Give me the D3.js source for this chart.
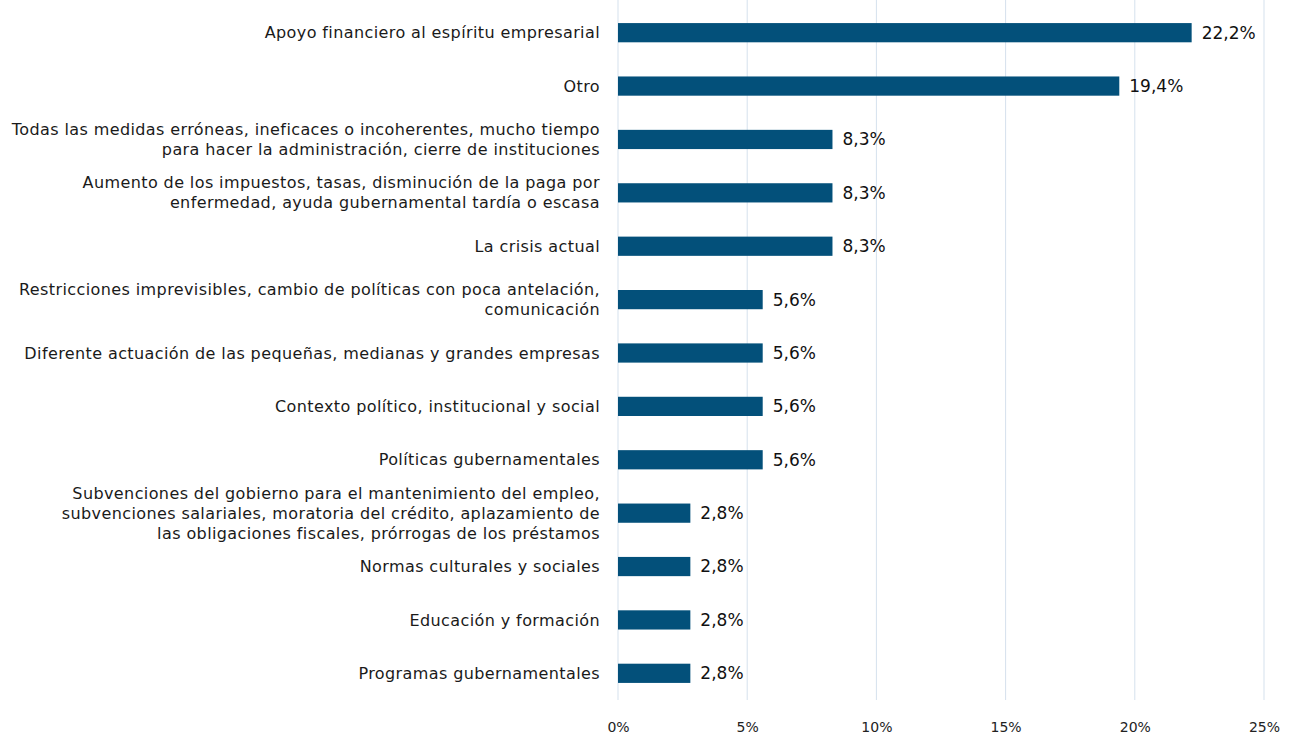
<!DOCTYPE html>
<html>
<head>
<meta charset="utf-8">
<script src="https://d3js.org/d3.v7.min.js"></script>
<style>
  body { margin: 0; background: #fff; }
  svg { font-family: "DejaVu Sans", sans-serif; }
</style>
</head>
<body>
<svg id="chart" width="1291" height="735"></svg>
<script>
// categories, top to bottom (line breaks as in the original)
var categories = [
  "Apoyo financiero al espíritu empresarial",
  "Otro",
  "Todas las medidas erróneas, ineficaces o incoherentes, mucho tiempo\npara hacer la administración, cierre de instituciones",
  "Aumento de los impuestos, tasas, disminución de la paga por\nenfermedad, ayuda gubernamental tardía o escasa",
  "La crisis actual",
  "Restricciones imprevisibles, cambio de políticas con poca antelación,\ncomunicación",
  "Diferente actuación de las pequeñas, medianas y grandes empresas",
  "Contexto político, institucional y social",
  "Políticas gubernamentales",
  "Subvenciones del gobierno para el mantenimiento del empleo,\nsubvenciones salariales, moratoria del crédito, aplazamiento de\nlas obligaciones fiscales, prórrogas de los préstamos",
  "Normas culturales y sociales",
  "Educación y formación",
  "Programas gubernamentales"
];
var values = [22.2, 19.4, 8.3, 8.3, 8.3, 5.6, 5.6, 5.6, 5.6, 2.8, 2.8, 2.8, 2.8];
var ticks = [0, 5, 10, 15, 20, 25];

var svg = d3.select("#chart");
var left = 618, right = 1264;

var x = d3.scaleLinear().domain([0, 25]).range([left, right]);
var y = d3.scaleBand().domain(d3.range(categories.length))
    .range([6, 700]).paddingInner(0.64).paddingOuter(0.32);

var fmt = function(v) { return d3.format(".1f")(v).replace(".", ",") + "%"; };

// gridlines
svg.append("g").selectAll("line")
  .data(ticks)
  .enter().append("line")
    .attr("x1", function(d) { return x(d); })
    .attr("x2", function(d) { return x(d); })
    .attr("y1", 0)
    .attr("y2", 700)
    .attr("stroke", "#d5e1ed")
    .attr("stroke-width", 1);

// axis labels
var axis = svg.append("g")
    .attr("transform", "translate(0,719)")
    .call(d3.axisBottom(x).tickValues(ticks).tickSize(0).tickFormat(function(d) { return d + "%"; }));
axis.select(".domain").remove();
axis.selectAll("text")
    .attr("font-size", 14)
    .attr("font-family", "'DejaVu Sans', sans-serif")
    .attr("fill", "#222");

// bars
svg.append("g").selectAll("rect")
  .data(values)
  .enter().append("rect")
    .attr("x", x(0))
    .attr("y", function(d, i) { return y(i); })
    .attr("width", function(d) { return x(d) - x(0); })
    .attr("height", y.bandwidth())
    .attr("fill", "#03507a");

// value labels
svg.append("g").selectAll("text")
  .data(values)
  .enter().append("text")
    .attr("x", function(d) { return x(d) + 10; })
    .attr("y", function(d, i) { return y(i) + y.bandwidth() / 2; })
    .attr("dy", "0.35em")
    .attr("font-size", 17)
    .attr("fill", "#111")
    .text(fmt);

// category labels
var lineH = 20;
var cat = svg.append("g").selectAll("text")
  .data(categories)
  .enter().append("text")
    .attr("text-anchor", "end")
    .attr("font-size", 16)
    .attr("letter-spacing", 0.4)
    .attr("fill", "#1a1a1a")
    .attr("y", function(d, i) {
      var n = d.split("\n").length;
      return y(i) + y.bandwidth() / 2 - (n - 1) * lineH / 2;
    });
cat.each(function(d) {
  var t = d3.select(this);
  d.split("\n").forEach(function(line, j) {
    t.append("tspan")
      .attr("x", 600)
      .attr("dy", j === 0 ? "0.35em" : lineH)
      .text(line);
  });
});
</script>
</body>
</html>
